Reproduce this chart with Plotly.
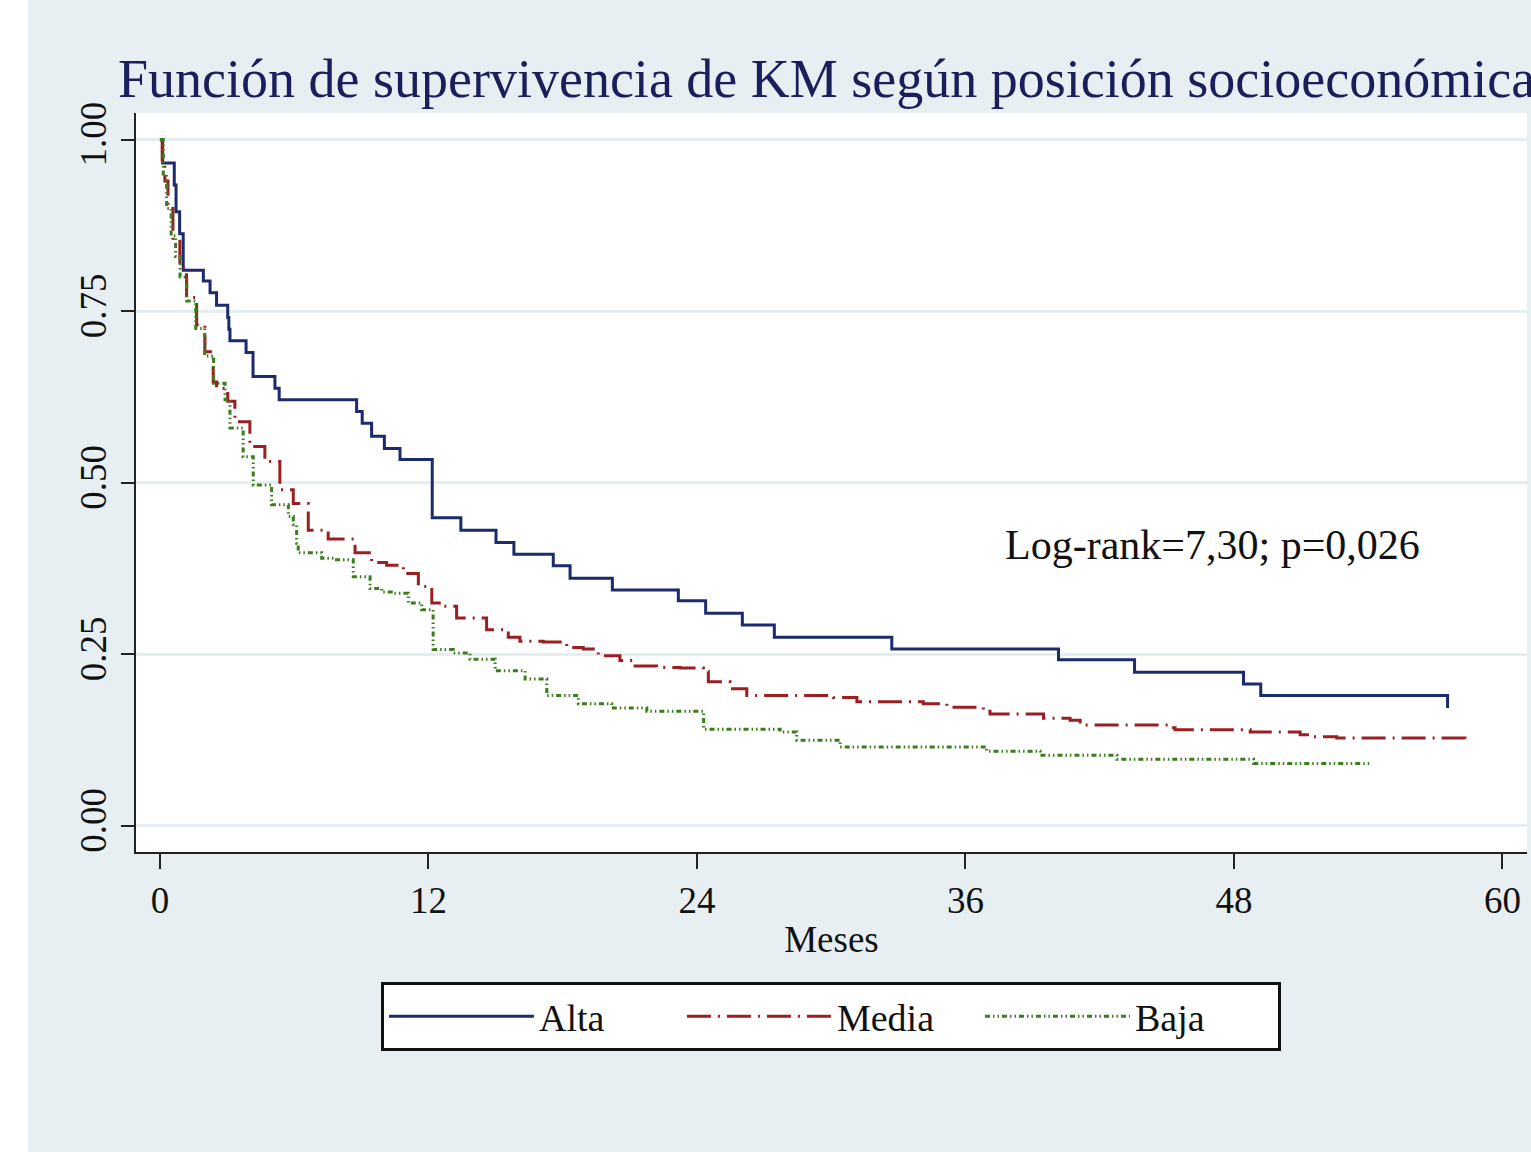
import plotly.graph_objects as go

# ---- data ----
alta_t = [0, 0.12, 0.64, 0.72, 0.88, 1.04, 1.94, 2.24, 2.53, 3.03, 3.08, 3.13, 3.85, 4.16, 5.14, 5.33,
          8.79, 9.04, 9.46, 10.03, 10.73, 12.17, 13.45, 15.02, 15.82, 17.58, 18.33, 20.22, 23.17,
          24.39, 26.03, 27.46, 32.71, 40.16, 43.56, 48.43, 49.2, 57.55]
alta_s = [1.0, 0.966, 0.934, 0.895, 0.863, 0.81, 0.794, 0.777, 0.759, 0.741, 0.724, 0.707, 0.69, 0.655,
          0.638, 0.621, 0.604, 0.587, 0.568, 0.55, 0.534, 0.449, 0.431, 0.413, 0.396, 0.379, 0.361,
          0.344, 0.328, 0.31, 0.293, 0.275, 0.258, 0.242, 0.224, 0.207, 0.19, 0.172]

media_t = [0, 0.1, 0.22, 0.36, 0.58, 0.89, 1.19, 1.64, 2.01, 2.38, 2.53, 3.03, 3.35, 4.02, 4.69, 5.36,
           5.96, 6.63, 7.52, 8.72, 9.46, 10.13, 10.88, 11.55, 12.15, 12.59, 13.26, 14.6, 15.57, 16.09,
           17.13, 18.18, 18.92, 19.59, 20.56, 21.16, 22.2, 23.25, 24.29, 24.51, 25.48, 26.23, 30.1,
           31.15, 34.12, 35.17, 36.8, 37.1, 39.49, 40.68, 41.13, 45.15, 45.37, 48.73, 50.96, 51.41,
           52.6, 58.33]
media_s = [1.0, 0.97, 0.94, 0.9, 0.852, 0.813, 0.77, 0.73, 0.691, 0.647, 0.638, 0.619, 0.589, 0.553,
           0.531, 0.49, 0.47, 0.431, 0.418, 0.398, 0.384, 0.38, 0.368, 0.349, 0.325, 0.32, 0.303, 0.286,
           0.275, 0.269, 0.268, 0.26, 0.258, 0.248, 0.241, 0.233, 0.231, 0.23, 0.225, 0.21, 0.2, 0.19,
           0.187, 0.181, 0.178, 0.173, 0.167, 0.163, 0.157, 0.154, 0.147, 0.143, 0.14, 0.137, 0.133,
           0.13, 0.128, 0.127]

baja_t = [0, 0.15, 0.3, 0.5, 0.7, 0.9, 1.2, 1.6, 2.0, 2.4, 2.91, 3.13, 3.72, 4.17, 4.99, 5.74, 5.96,
          6.11, 6.18, 7.23, 7.82, 8.64, 9.39, 9.91, 10.43, 11.1, 11.7, 12.21, 13.11, 13.86, 14.98, 16.32,
          17.29, 18.7, 20.19, 21.76, 24.3, 27.72, 28.46, 30.4, 36.95, 39.34, 42.77, 48.88, 54.17]
baja_s = [1.0, 0.95, 0.9, 0.86, 0.83, 0.8, 0.765, 0.725, 0.685, 0.645, 0.621, 0.58, 0.538, 0.497, 0.468,
          0.451, 0.439, 0.412, 0.398, 0.39, 0.388, 0.363, 0.346, 0.341, 0.339, 0.325, 0.315, 0.257,
          0.252, 0.243, 0.226, 0.214, 0.19, 0.178, 0.172, 0.167, 0.141, 0.137, 0.125, 0.115, 0.109,
          0.103, 0.097, 0.091, 0.091]

x_ticks = [0, 12, 24, 36, 48, 60]
y_ticks = [0.0, 0.25, 0.5, 0.75, 1.0]
y_tick_labels = ["0.00", "0.25", "0.50", "0.75", "1.00"]

title_text = "Función de supervivencia de KM según posición socioeconómica"
annot_text = "Log-rank=7,30; p=0,026"

SERIF = "Liberation Serif, Times New Roman, serif"

fig = go.Figure()
fig.add_trace(go.Scatter(x=alta_t, y=alta_s, name="Alta", mode="lines",
                         line=dict(shape="hv", color="#1c2a6e", width=3)))
fig.add_trace(go.Scatter(x=media_t, y=media_s, name="Media", mode="lines",
                         line=dict(shape="hv", color="#9a1f22", width=3, dash="24px,7px,2px,7px")))
fig.add_trace(go.Scatter(x=baja_t, y=baja_s, name="Baja", mode="lines",
                         line=dict(shape="hv", color="#3a7d1c", width=3,
                                   dash="5px,3px,1.5px,3px,1.5px,3px")))

fig.add_annotation(x=47.03, y=0.41, xref="x", yref="y", text=annot_text, showarrow=False,
                   font=dict(family=SERIF, size=42, color="#111111"))

# thin white strip on the far left of the picture
fig.add_shape(type="rect", xref="paper", yref="paper", x0=-0.1, x1=-0.0776, y0=-1, y1=2,
              fillcolor="white", line=dict(width=0), layer="below")

fig.update_layout(
    width=1531, height=1152,
    margin=dict(l=136, r=4, t=113, b=300),
    paper_bgcolor="#e8eff2", plot_bgcolor="white",
    font=dict(family=SERIF, color="#111111"),
    title=dict(text=title_text, x=118 / 1531, xanchor="left", xref="container",
               y=1 - 78 / 1152, yanchor="middle", yref="container",
               font=dict(family=SERIF, size=54, color="#1a1f5c")),
    xaxis=dict(range=[-1.07, 61.1], tickvals=x_ticks, ticks="outside", ticklen=15, tickwidth=2,
               tickcolor="#222", showline=True, linecolor="#222", linewidth=2, showgrid=False,
               zeroline=False, tickfont=dict(size=37),
               title=dict(text="Meses", font=dict(size=37), standoff=6)),
    yaxis=dict(range=[-0.038, 1.039], tickvals=y_ticks, ticktext=y_tick_labels, ticks="outside",
               ticklen=13, tickwidth=2, tickcolor="#222", showline=True, linecolor="#222",
               linewidth=2, showgrid=True, gridcolor="#e4edf1", gridwidth=3, zeroline=False,
               tickangle=-90, tickfont=dict(size=37)),
    legend=dict(orientation="h", x=0.4996, xanchor="center", y=-0.176, yanchor="top",
                bgcolor="white", bordercolor="#111", borderwidth=3,
                font=dict(family=SERIF, size=38, color="#111"),
                itemwidth=145, entrywidth=138, entrywidthmode="pixels"),
    showlegend=True,
)

fig.write_html("out.html", post_script="document.body.style.margin='0px';",
               config={"displayModeBar": False})
